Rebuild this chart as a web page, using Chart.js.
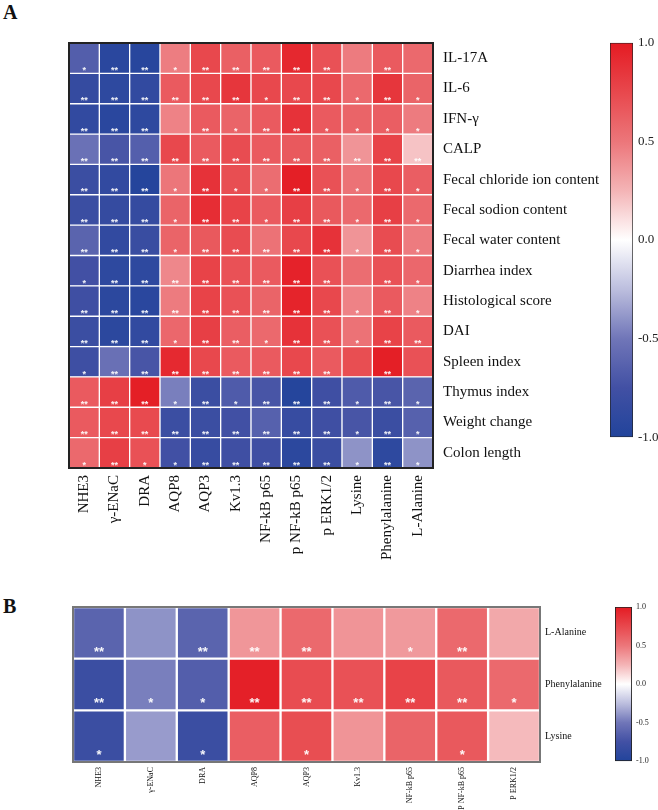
<!DOCTYPE html>
<html><head><meta charset="utf-8">
<script src="https://cdn.jsdelivr.net/npm/chart.js@4.4.1/dist/chart.umd.min.js"></script>
<style>
html,body{margin:0;padding:0;background:#fff;width:658px;height:810px;overflow:hidden;}
canvas{position:absolute;}
.lbl{position:absolute;font-family:"Liberation Serif",serif;font-weight:bold;font-size:20px;line-height:20px;color:#111;}
</style></head><body>
<div class="lbl" style="left:3px;top:2px">A</div>
<div class="lbl" style="left:3px;top:596px">B</div>
<canvas id="cA" width="610" height="575" style="left:0;top:0"></canvas>
<canvas id="cbA" width="98" height="420" style="left:560px;top:30px"></canvas>
<canvas id="cB" width="610" height="230" style="left:0;top:580px"></canvas>
<canvas id="cbB" width="68" height="175" style="left:590px;top:595px"></canvas>
<script>
// ---------- Panel A data ----------
const colsA = ["NHE3","γ-ENaC","DRA","AQP8","AQP3","Kv1.3","NF-kB p65","p NF-kB p65","p ERK1/2","Lysine","Phenylalanine","L-Alanine"];
const rowsA = ["IL-17A","IL-6","IFN-γ","CALP","Fecal chloride ion content","Fecal sodion content","Fecal water content","Diarrhea index","Histological score","DAI","Spleen index","Thymus index","Weight change","Colon length"];

const vIL17A   = [-0.66,-0.93,-0.95,0.47,0.75,0.62,0.65,0.93,0.70,0.48,0.65,0.57];
const vIL6     = [-0.85,-0.90,-0.87,0.65,0.75,0.85,0.75,0.75,0.75,0.57,0.85,0.60];
const vIFNg    = [-0.87,-0.93,-0.90,0.45,0.65,0.60,0.65,0.87,0.65,0.60,0.63,0.48];
const vCALP    = [-0.53,-0.72,-0.65,0.75,0.65,0.73,0.65,0.66,0.62,0.38,0.78,0.20];
const vFecalCl = [-0.80,-0.87,-0.97,0.50,0.87,0.72,0.55,0.98,0.70,0.52,0.75,0.63];
const vFecalNa = [-0.80,-0.85,-0.85,0.60,0.90,0.78,0.65,0.80,0.66,0.57,0.80,0.57];
const vFecalW  = [-0.62,-0.87,-0.82,0.60,0.66,0.73,0.52,0.75,0.87,0.38,0.73,0.48];
const vDiarr   = [-0.75,-0.90,-0.90,0.43,0.78,0.70,0.65,0.96,0.70,0.55,0.70,0.58];
const vHisto   = [-0.77,-0.92,-0.93,0.48,0.78,0.70,0.60,0.95,0.75,0.45,0.65,0.45];
const vDAI     = [-0.80,-0.92,-0.87,0.58,0.80,0.63,0.57,0.87,0.70,0.52,0.78,0.65];
const vSpleen  = [-0.78,-0.54,-0.72,0.92,0.75,0.65,0.65,0.75,0.65,0.72,0.98,0.70];
const vThymus  = [0.65,0.80,0.98,-0.47,-0.80,-0.68,-0.72,-0.97,-0.77,-0.68,-0.72,-0.62];
const vWeight  = [0.65,0.75,0.74,-0.80,-0.80,-0.76,-0.64,-0.83,-0.77,-0.72,-0.80,-0.64];
const vColon   = [0.57,0.80,0.70,-0.76,-0.83,-0.77,-0.77,-0.92,-0.80,-0.40,-0.90,-0.40];

const sIL17A   = ["*","**","**","*","**","**","**","**","**","","**",""];
const sIL6     = ["**","**","**","**","**","**","*","**","**","*","**","*"];
const sIFNg    = ["**","**","**","","**","*","**","**","*","*","*","*"];
const sCALP    = ["**","**","**","**","**","**","**","**","**","**","**","**"];
const sFecalCl = ["**","**","**","*","**","*","*","**","**","*","**","*"];
const sFecalNa = ["**","**","**","*","**","**","*","**","**","*","**","*"];
const sFecalW  = ["**","**","**","*","**","**","**","**","**","*","**","*"];
const sDiarr   = ["*","**","**","**","**","**","**","**","**","","**","*"];
const sHisto   = ["**","**","**","**","**","**","**","**","**","*","**","*"];
const sDAI     = ["**","**","**","*","**","**","*","**","**","*","**","**"];
const sSpleen  = ["*","**","**","**","**","**","**","**","**","","**",""];
const sThymus  = ["**","**","**","*","**","*","**","**","**","*","**","*"];
const sWeight  = ["**","**","**","**","**","**","**","**","**","*","**","*"];
const sColon   = ["*","**","*","*","**","**","**","**","**","*","**","*"];

// ---------- Panel B data ----------
const colsB = ["NHE3","γ-ENaC","DRA","AQP8","AQP3","Kv1.3","NF-kB p65","P NF-kB p65","P ERK1/2"];
const rowsB = ["L-Alanine","Phenylalanine","Lysine"];
const vBAla = [-0.62,-0.40,-0.62,0.37,0.57,0.38,0.36,0.57,0.30];
const vBPhe = [-0.80,-0.47,-0.66,0.97,0.73,0.70,0.78,0.66,0.57];
const vBLys = [-0.80,-0.37,-0.80,0.63,0.72,0.38,0.60,0.66,0.23];
const sBAla = ["**","","**","**","**","","*","**",""];
const sBPhe = ["**","*","*","**","**","**","**","**","*"];
const sBLys = ["*","","*","","*","","","*",""];

const colorbarTicks = [-1.0,-0.5,0.0,0.5,1.0];

// ---------- colour map ----------
const cmapStops = [
  [-1.0,[33,68,155]],[-0.75,[66,80,164]],[-0.5,[112,118,184]],[-0.25,[188,190,222]],
  [0,[255,255,255]],[0.25,[244,180,182]],[0.5,[236,118,122]],[0.75,[232,72,77]],[1.0,[228,27,35]]
];
function cmap(v){
  v = Math.max(-1, Math.min(1, v));
  for (let i = 0; i < cmapStops.length-1; i++){
    const [a, ca] = cmapStops[i], [b, cb] = cmapStops[i+1];
    if (v >= a && v <= b){
      const t = (v-a)/(b-a);
      const c = ca.map((x,k)=>Math.round(x + (cb[k]-x)*t));
      return `rgb(${c[0]},${c[1]},${c[2]})`;
    }
  }
  return 'rgb(255,255,255)';
}

const SERIF = "'Liberation Serif','Times New Roman',serif";

const cellPlugin = {
  id: 'cells',
  afterDatasetsDraw(chart, args, o){
    const ctx = chart.ctx;
    ctx.save();
    ctx.fillStyle = o.starColor;
    ctx.font = `bold ${o.starSize}px 'Liberation Sans',Arial,sans-serif`;
    ctx.textAlign = 'center';
    ctx.textBaseline = 'alphabetic';
    chart.data.datasets.forEach((ds, i) => {
      const meta = chart.getDatasetMeta(i);
      meta.data.forEach((el, j) => {
        const s = ds.stars[j];
        if (!s) return;
        const top = Math.min(el.y, el.base), bot = Math.max(el.y, el.base);
        const cy = top + o.pos*(bot-top);
        ctx.fillText(s, el.x, cy + o.starSize*0.57);
      });
    });
    const a = chart.chartArea;
    ctx.strokeStyle = o.frameColor;
    ctx.lineWidth = o.frameWidth;
    ctx.strokeRect(a.left, a.top, a.right-a.left, a.bottom-a.top);
    ctx.restore();
  }
};

function heatmap(id, cols, rows, values, stars, g){
  const datasets = [];
  for (let r = rows.length-1; r >= 0; r--){
    datasets.push({
      label: rows[r],
      data: values[r].map(() => 1),
      backgroundColor: values[r].map(cmap),
      stars: stars[r],
      borderColor: '#ffffff',
      borderWidth: g.cellBorder,
      borderSkipped: false,
      barPercentage: 1,
      categoryPercentage: 1
    });
  }
  new Chart(document.getElementById(id), {
    type: 'bar',
    data: { labels: cols, datasets },
    options: {
      responsive: false, animation: false,
      layout: { padding: { left: g.left, top: g.top, right: 0, bottom: 0 } },
      plugins: { legend: { display: false }, tooltip: { enabled: false },
        cells: { starSize: g.starSize, starColor: g.starColor, pos: g.starPos, frameColor: g.frameColor, frameWidth: g.frameWidth } },
      scales: {
        x: { stacked: true, grid: { display: false, drawTicks: false }, border: { display: false },
             ticks: { autoSkip: false, maxRotation: 90, minRotation: 90, padding: g.xPad,
                      font: { family: SERIF, size: g.xFont }, color: '#111' },
             afterFit(s){ s.height = g.xHeight; } },
        y: { stacked: true, display: false, min: 0, max: rows.length },
        y2: { type: 'category', labels: rows, position: 'right', offset: true,
              grid: { display: false, drawTicks: false }, border: { display: false },
              ticks: { autoSkip: false, padding: g.yPad, font: { family: SERIF, size: g.yFont }, color: '#111' },
              afterFit(s){ s.width = g.yWidth; } }
      }
    },
    plugins: [cellPlugin]
  });
}

function colorbar(id, g){
  const grad = (ctx) => {
    const chart = ctx.chart;
    if (!chart.chartArea) return null;
    const y = chart.scales.y;
    const gr = chart.ctx.createLinearGradient(0, y.getPixelForValue(-1), 0, y.getPixelForValue(1));
    for (let v = -1; v <= 1.0001; v += 0.05) gr.addColorStop(Math.min(1,(v+1)/2), cmap(v));
    return gr;
  };
  new Chart(document.getElementById(id), {
    type: 'bar',
    data: { labels: [''], datasets: [{ data: [[colorbarTicks[0], colorbarTicks[colorbarTicks.length-1]]],
      backgroundColor: grad, borderColor: '#222', borderWidth: g.border, borderSkipped: false,
      barPercentage: 1, categoryPercentage: 1 }] },
    options: {
      responsive: false, animation: false,
      layout: { padding: { left: g.left, top: g.top, bottom: g.bottom, right: 0 } },
      plugins: { legend: { display: false }, tooltip: { enabled: false } },
      scales: {
        x: { display: false },
        y: { position: 'right', min: -1, max: 1,
             afterBuildTicks(s){ s.ticks = colorbarTicks.map(v => ({ value: v })); },
             ticks: { padding: g.pad, font: { family: SERIF, size: g.font }, color: '#222',
                      callback: v => Number(v).toFixed(1) },
             grid: { display: false, drawTicks: false }, border: { display: false },
             afterFit(s){ s.width = g.width; } }
      }
    }
  });
}

heatmap('cA', colsA, rowsA,
  [vIL17A,vIL6,vIFNg,vCALP,vFecalCl,vFecalNa,vFecalW,vDiarr,vHisto,vDAI,vSpleen,vThymus,vWeight,vColon],
  [sIL17A,sIL6,sIFNg,sCALP,sFecalCl,sFecalNa,sFecalW,sDiarr,sHisto,sDAI,sSpleen,sThymus,sWeight,sColon],
  { left: 69, top: 43, xHeight: 107, yWidth: 177, xPad: 7, yPad: 10, xFont: 15, yFont: 15,
    starSize: 9, starColor: 'rgba(255,255,255,0.92)', starPos: 0.82, frameColor: '#222', frameWidth: 2, cellBorder: 1 });

colorbar('cbA', { left: 50, top: 12, bottom: 10, width: 25, pad: 5, font: 13, border: 1 });

heatmap('cB', colsB, rowsB, [vBAla, vBPhe, vBLys], [sBAla, sBPhe, sBLys],
  { left: 73, top: 27, xHeight: 48, yWidth: 70, xPad: 5, yPad: 5, xFont: 8, yFont: 10,
    starSize: 13, starColor: 'rgba(255,255,255,0.95)', starPos: 0.8, frameColor: '#777', frameWidth: 2, cellBorder: 1.5 });

colorbar('cbB', { left: 25, top: 12, bottom: 8, width: 26, pad: 4, font: 8, border: 1.2 });
</script>
</body></html>
